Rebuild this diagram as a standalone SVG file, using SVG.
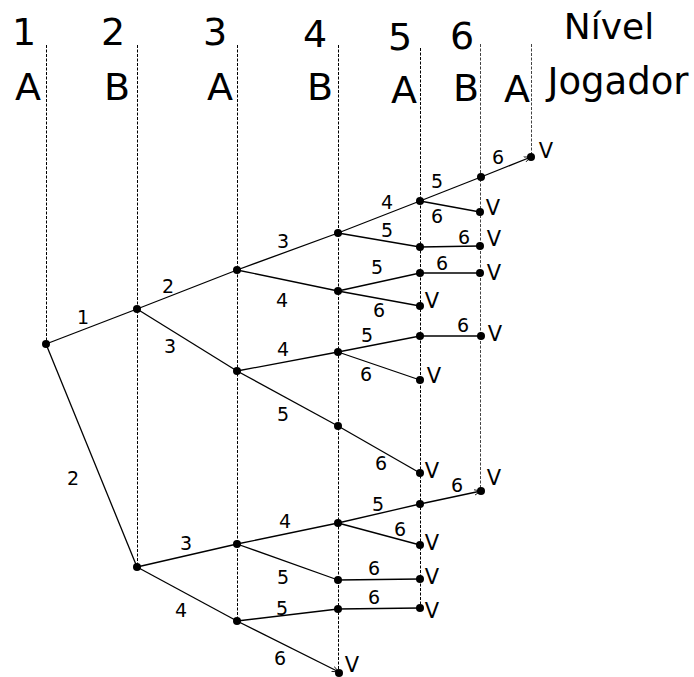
<svg xmlns="http://www.w3.org/2000/svg" width="694" height="677" viewBox="0 0 694 677">
<defs>
<style>
.hd{font-family:"DejaVu Sans","Liberation Sans",sans-serif;font-size:38px;fill:#000;text-anchor:middle}
.lb{font-family:"DejaVu Sans","Liberation Sans",sans-serif;font-size:19px;fill:#000;text-anchor:middle}
.v{font-family:"DejaVu Sans","Liberation Sans",sans-serif;font-size:21px;fill:#000;text-anchor:middle}
.dl{stroke:#000;stroke-width:1;stroke-dasharray:3 1.5;fill:none}
.dg{stroke:#444;stroke-width:1;stroke-dasharray:3 1.5;fill:none}
.e{stroke:#000;stroke-width:1.3;fill:none}
.n{fill:#000}
</style>
<marker id="ah" viewBox="0 0 10 10" refX="10" refY="5" markerWidth="7" markerHeight="7" orient="auto" markerUnits="userSpaceOnUse">
<path d="M0,1 L10,5 L0,9" fill="none" stroke="#000" stroke-width="1.2"/>
</marker>
</defs>
<rect width="694" height="677" fill="#fff"/>
<g id="header">
<text class="hd" x="24" y="45">1</text>
<text class="hd" x="113" y="45">2</text>
<text class="hd" x="215" y="45">3</text>
<text class="hd" x="315" y="47">4</text>
<text class="hd" x="400" y="50">5</text>
<text class="hd" x="462" y="49">6</text>
<text class="hd" x="609" y="39" style="font-size:36px">Nível</text>
<text class="hd" x="28" y="100">A</text>
<text class="hd" x="117" y="100">B</text>
<text class="hd" x="220" y="100">A</text>
<text class="hd" x="320" y="100">B</text>
<text class="hd" x="404" y="103">A</text>
<text class="hd" x="466" y="101">B</text>
<text class="hd" x="517" y="102">A</text>
<text class="hd" x="618" y="94" style="font-size:37px">Jogador</text>
</g>
<g id="levels">
<line class="dl" x1="46.5" y1="45" x2="46.5" y2="344"/>
<line class="dl" x1="137.5" y1="45" x2="137.5" y2="567"/>
<line class="dl" x1="237.5" y1="45" x2="237.5" y2="621"/>
<line class="dl" x1="338.5" y1="45" x2="338.5" y2="672"/>
<line class="dl" x1="420.5" y1="48" x2="420.5" y2="608"/>
<line class="dg" x1="480.5" y1="44" x2="480.5" y2="491"/>
<line class="dg" x1="531.5" y1="44" x2="531.5" y2="157"/>
</g>
<g id="connectors">
<line class="e" x1="46" y1="344" x2="137" y2="309"/>
<line class="e" x1="46" y1="344" x2="137" y2="567"/>
<line class="e" x1="137" y1="309" x2="237" y2="270"/>
<line class="e" x1="137" y1="309" x2="237" y2="371"/>
<line class="e" x1="237" y1="270" x2="338" y2="233"/>
<line class="e" x1="237" y1="270" x2="338" y2="291"/>
<line class="e" x1="338" y1="233" x2="420" y2="201"/>
<line class="e" x1="338" y1="233" x2="420" y2="247"/>
<line class="e" x1="420" y1="201" x2="481" y2="177"/>
<line class="e" x1="420" y1="201" x2="480" y2="212"/>
<line class="e" x1="481" y1="177" x2="531" y2="157" marker-end="url(#ah)"/>
<line class="e" x1="420" y1="247" x2="480" y2="246"/>
<line class="e" x1="338" y1="291" x2="420" y2="273"/>
<line class="e" x1="338" y1="291" x2="420" y2="306"/>
<line class="e" x1="420" y1="273" x2="480" y2="273"/>
<line class="e" x1="237" y1="371" x2="338" y2="352"/>
<line class="e" x1="237" y1="371" x2="338" y2="426"/>
<line class="e" x1="338" y1="352" x2="420" y2="336"/>
<line class="e" x1="338" y1="352" x2="420" y2="380"/>
<line class="e" x1="420" y1="336" x2="481" y2="336"/>
<line class="e" x1="338" y1="426" x2="420" y2="473"/>
<line class="e" x1="137" y1="567" x2="237" y2="544"/>
<line class="e" x1="137" y1="567" x2="237" y2="621"/>
<line class="e" x1="237" y1="544" x2="338" y2="523"/>
<line class="e" x1="237" y1="544" x2="338" y2="580"/>
<line class="e" x1="338" y1="523" x2="420" y2="504"/>
<line class="e" x1="338" y1="523" x2="420" y2="545"/>
<line class="e" x1="420" y1="504" x2="481" y2="491" marker-end="url(#ah)"/>
<line class="e" x1="338" y1="580" x2="420" y2="579"/>
<line class="e" x1="237" y1="621" x2="338" y2="609"/>
<line class="e" x1="237" y1="621" x2="339" y2="672" marker-end="url(#ah)"/>
<line class="e" x1="338" y1="609" x2="420" y2="608"/>
</g>
<g id="edge-labels">
<text class="lb" x="83" y="324">1</text>
<text class="lb" x="73" y="485">2</text>
<text class="lb" x="168" y="293">2</text>
<text class="lb" x="170" y="353">3</text>
<text class="lb" x="283" y="248">3</text>
<text class="lb" x="282" y="307">4</text>
<text class="lb" x="387" y="209">4</text>
<text class="lb" x="387" y="237">5</text>
<text class="lb" x="437" y="188">5</text>
<text class="lb" x="437" y="223">6</text>
<text class="lb" x="498" y="164">6</text>
<text class="lb" x="464" y="244">6</text>
<text class="lb" x="377" y="274">5</text>
<text class="lb" x="379" y="317">6</text>
<text class="lb" x="442" y="270">6</text>
<text class="lb" x="283" y="356">4</text>
<text class="lb" x="283" y="421">5</text>
<text class="lb" x="367" y="342">5</text>
<text class="lb" x="366" y="381">6</text>
<text class="lb" x="463" y="332">6</text>
<text class="lb" x="381" y="470">6</text>
<text class="lb" x="186" y="550">3</text>
<text class="lb" x="181" y="617">4</text>
<text class="lb" x="285" y="528">4</text>
<text class="lb" x="283" y="584">5</text>
<text class="lb" x="378" y="511">5</text>
<text class="lb" x="400" y="536">6</text>
<text class="lb" x="457" y="492">6</text>
<text class="lb" x="374" y="575">6</text>
<text class="lb" x="282" y="615">5</text>
<text class="lb" x="280" y="665">6</text>
<text class="lb" x="374" y="604">6</text>
</g>
<g id="n1"><circle class="n" cx="46" cy="344" r="4"/></g>
<g id="n2a"><circle class="n" cx="137" cy="309" r="4"/></g>
<g id="n2b"><circle class="n" cx="137" cy="567" r="4"/></g>
<g id="n3a"><circle class="n" cx="237" cy="270" r="4"/></g>
<g id="n3b"><circle class="n" cx="237" cy="371" r="4"/></g>
<g id="n3c"><circle class="n" cx="237" cy="544" r="4"/></g>
<g id="n3d"><circle class="n" cx="237" cy="621" r="4"/></g>
<g id="n4a"><circle class="n" cx="338" cy="233" r="4"/></g>
<g id="n4b"><circle class="n" cx="338" cy="291" r="4"/></g>
<g id="n4c"><circle class="n" cx="338" cy="352" r="4"/></g>
<g id="n4d"><circle class="n" cx="338" cy="426" r="4"/></g>
<g id="n4e"><circle class="n" cx="338" cy="523" r="4"/></g>
<g id="n4f"><circle class="n" cx="338" cy="580" r="4"/></g>
<g id="n4g"><circle class="n" cx="338" cy="609" r="4"/></g>
<g id="n4h"><circle class="n" cx="339" cy="673" r="4"/><text class="v" x="352" y="672">V</text></g>
<g id="n5a"><circle class="n" cx="420" cy="201" r="4"/></g>
<g id="n5b"><circle class="n" cx="420" cy="247" r="4"/></g>
<g id="n5c"><circle class="n" cx="420" cy="273" r="4"/></g>
<g id="n5d"><circle class="n" cx="420" cy="306" r="4"/><text class="v" x="432" y="308">V</text></g>
<g id="n5e"><circle class="n" cx="420" cy="336" r="4"/></g>
<g id="n5f"><circle class="n" cx="420" cy="380" r="4"/><text class="v" x="434" y="383">V</text></g>
<g id="n5g"><circle class="n" cx="420" cy="473" r="4"/><text class="v" x="432" y="478">V</text></g>
<g id="n5h"><circle class="n" cx="420" cy="504" r="4"/></g>
<g id="n5i"><circle class="n" cx="420" cy="545" r="4"/><text class="v" x="432" y="550">V</text></g>
<g id="n5j"><circle class="n" cx="420" cy="579" r="4"/><text class="v" x="432" y="584">V</text></g>
<g id="n5k"><circle class="n" cx="420" cy="608" r="4"/><text class="v" x="432" y="618">V</text></g>
<g id="n6a"><circle class="n" cx="481" cy="177" r="4"/></g>
<g id="n6b"><circle class="n" cx="480" cy="212" r="4"/><text class="v" x="493" y="215">V</text></g>
<g id="n6c"><circle class="n" cx="480" cy="246" r="4"/><text class="v" x="494" y="246">V</text></g>
<g id="n6d"><circle class="n" cx="480" cy="273" r="4"/><text class="v" x="494" y="280">V</text></g>
<g id="n6e"><circle class="n" cx="481" cy="336" r="4"/><text class="v" x="495" y="341">V</text></g>
<g id="n6f"><circle class="n" cx="481" cy="491" r="4"/><text class="v" x="494" y="485">V</text></g>
<g id="n7"><circle class="n" cx="531" cy="157" r="4"/><text class="v" x="546" y="158">V</text></g>
</svg>
